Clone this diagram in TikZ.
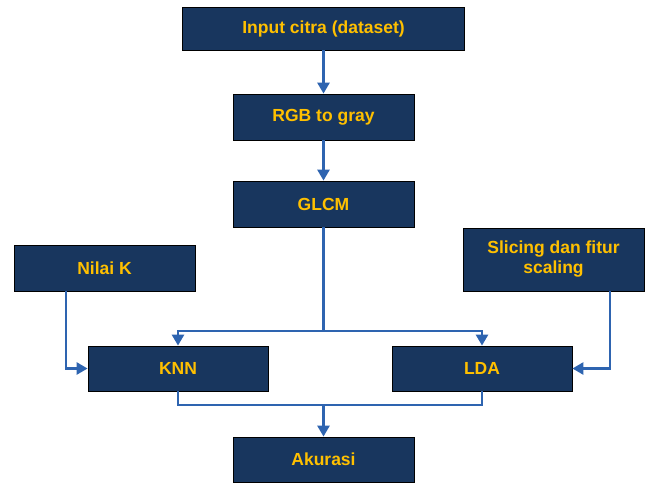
\documentclass[tikz,border=0pt]{standalone}
\usepackage{fontspec}
\setmainfont{Liberation Sans}
\usetikzlibrary{arrows.meta}
\definecolor{navy}{RGB}{24,54,94}
\definecolor{gold}{RGB}{255,192,0}
\definecolor{lineblue}{RGB}{46,100,176}
\tikzset{
  box/.style={draw=black, line width=0.8pt, fill=navy, text=gold, font=\fontsize{17.5}{20}\selectfont\bfseries, align=center, inner sep=0pt},
  arr/.style={draw=lineblue, line width=2.6pt, -{Triangle[width=12pt,length=11pt]}},
  ln/.style={draw=lineblue, line width=2.6pt}
}
\begin{document}
\begin{tikzpicture}[x=1pt,y=-1pt]
\useasboundingbox (0,0) rectangle (648,482);
\node[box, minimum width=282pt, minimum height=43pt] (input) at (323.5,28.5) {Input citra (dataset)};
\node[box, minimum width=181pt, minimum height=46pt] (rgb) at (323.5,117) {RGB to gray};
\node[box, minimum width=181pt, minimum height=46pt] (glcm) at (323.5,204) {GLCM};
\node[box, minimum width=181pt, minimum height=46pt] (nilai) at (104.5,268) {Nilai K};
\node[box, minimum width=181pt, minimum height=63pt] (slicing) at (553.5,259.5) {Slicing dan fitur\\scaling};
\node[box, minimum width=180pt, minimum height=45pt] (knn) at (178,368.5) {KNN};
\node[box, minimum width=180pt, minimum height=45pt] (lda) at (482,368.5) {LDA};
\node[box, minimum width=181pt, minimum height=45pt] (akurasi) at (323.5,459.5) {Akurasi};
\coordinate (split) at (323.5,331);
\coordinate (merge) at (323.5,405);
\draw[arr] (input.south) -- (rgb.north);
\draw[arr] (rgb.south) -- (glcm.north);
\draw[ln] (glcm.south) -- (split);
\draw[arr] (split) -| (knn.north);
\draw[arr] (split) -| (lda.north);
\draw[arr] ([xshift=-38.5pt]nilai.south) |- (knn.west);
\draw[arr] ([xshift=56.5pt]slicing.south) |- (lda.east);
\draw[ln] (knn.south) |- (merge) -| (lda.south);
\draw[arr] (merge) -- (akurasi.north);
\end{tikzpicture}
\end{document}
